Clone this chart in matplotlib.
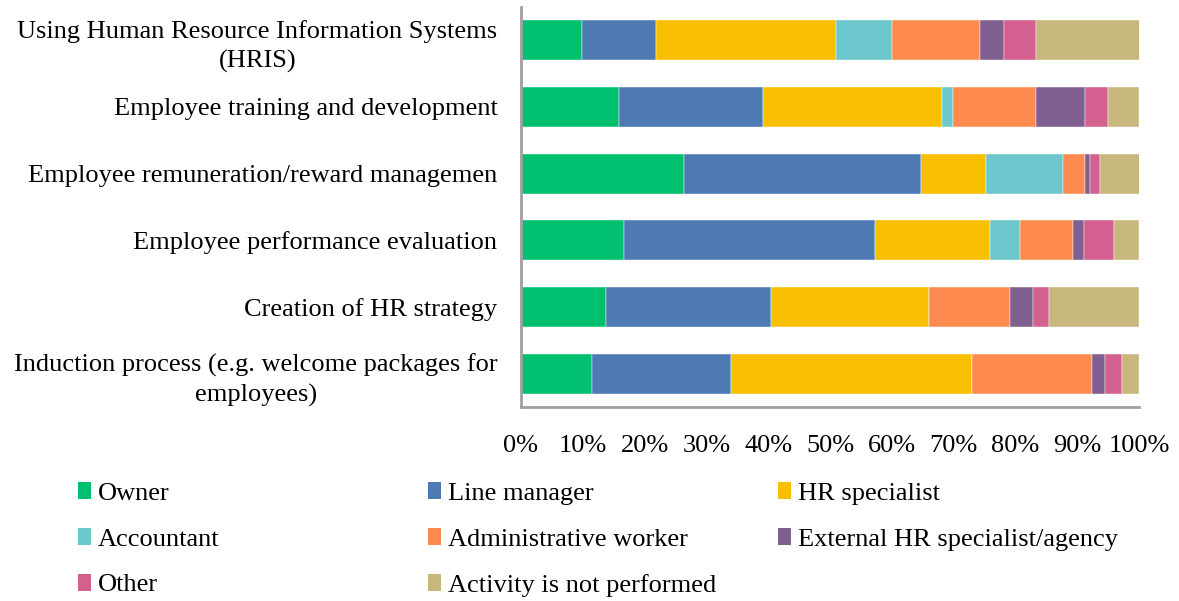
import matplotlib
matplotlib.use("Agg")
import matplotlib.pyplot as plt
import numpy as np
from matplotlib.patches import Patch

categories = [
    "Using Human Resource Information Systems\n(HRIS)",
    "Employee training and development",
    "Employee remuneration/reward managemen",
    "Employee performance evaluation",
    "Creation of HR strategy",
    "Induction process (e.g. welcome packages for\nemployees)",
]
series_names = ["Owner", "Line manager", "HR specialist", "Accountant",
                "Administrative worker", "External HR specialist/agency",
                "Other", "Activity is not performed"]
owner        = [9.8, 15.9, 26.3, 16.7, 13.8, 11.5]
line_manager = [12.1, 23.3, 38.5, 40.6, 26.7, 22.5]
hr_specialist= [29.0, 29.0, 10.4, 18.6, 25.6, 39.0]
accountant   = [9.1, 1.7, 12.5, 4.8, 0.0, 0.0]
admin_worker = [14.3, 13.5, 3.5, 8.7, 13.0, 19.4]
external_hr  = [3.8, 7.8, 0.9, 1.7, 3.7, 2.1]
other        = [5.2, 3.8, 1.6, 4.8, 2.7, 2.7]
not_performed= [16.8, 5.0, 6.4, 4.1, 14.5, 2.8]
tick_labels = ["0%", "10%", "20%", "30%", "40%", "50%", "60%", "70%", "80%", "90%", "100%"]

colors = ["#00BF6F", "#4E7AB4", "#F8BF00", "#6CC8CC",
          "#FF8A50", "#7E5F8F", "#D4608F", "#C8B77C"]

plt.rcParams['font.family'] = ['Liberation Serif', 'DejaVu Serif']
FS = 19

fig = plt.figure(figsize=(11.79, 6.01), dpi=100)
ax = fig.add_axes([521/1179, 1 - 407/601, 618/1179, 400/601])

data = [owner, line_manager, hr_specialist, accountant, admin_worker,
        external_hr, other, not_performed]
y = np.arange(len(categories))
left = np.zeros(len(categories))
for name, vals, c in zip(series_names, data, colors):
    vals = np.array(vals, dtype=float)
    ax.barh(y, vals, left=left, height=0.6, color=c, label=name,
            edgecolor='white', linewidth=0.3)
    left += vals

ax.set_ylim(len(categories) - 0.5, -0.5)
ax.set_xlim(0, 100)
ax.set_yticks(y)
ax.set_yticklabels(categories, fontsize=FS, multialignment='center',
                   linespacing=1.4)
ax.set_xticks(np.arange(0, 101, 10))
ax.set_xticklabels(tick_labels, fontsize=FS)
ax.tick_params(axis='y', length=0, pad=17)
ax.tick_params(axis='x', length=0, pad=20)
for s in ['top', 'right']:
    ax.spines[s].set_visible(False)
for s in ['left', 'bottom']:
    ax.spines[s].set_color('#A0A0A0')
    ax.spines[s].set_linewidth(2)

handles = [Patch(facecolor=c, edgecolor='none') for c in colors]
col_x = [78, 428, 778]
for ci in range(3):
    idx = [i for i in range(ci, len(series_names), 3)]
    leg = fig.legend([handles[i] for i in idx], [series_names[i] for i in idx],
                     ncol=1, loc='upper left',
                     bbox_to_anchor=(col_x[ci]/1179, 1 - 482/601),
                     frameon=False, fontsize=FS, handlelength=0.5,
                     handleheight=0.6, handletextpad=0.25, labelspacing=0.88,
                     borderaxespad=0, borderpad=0)

fig.savefig("out.png", dpi=100)
